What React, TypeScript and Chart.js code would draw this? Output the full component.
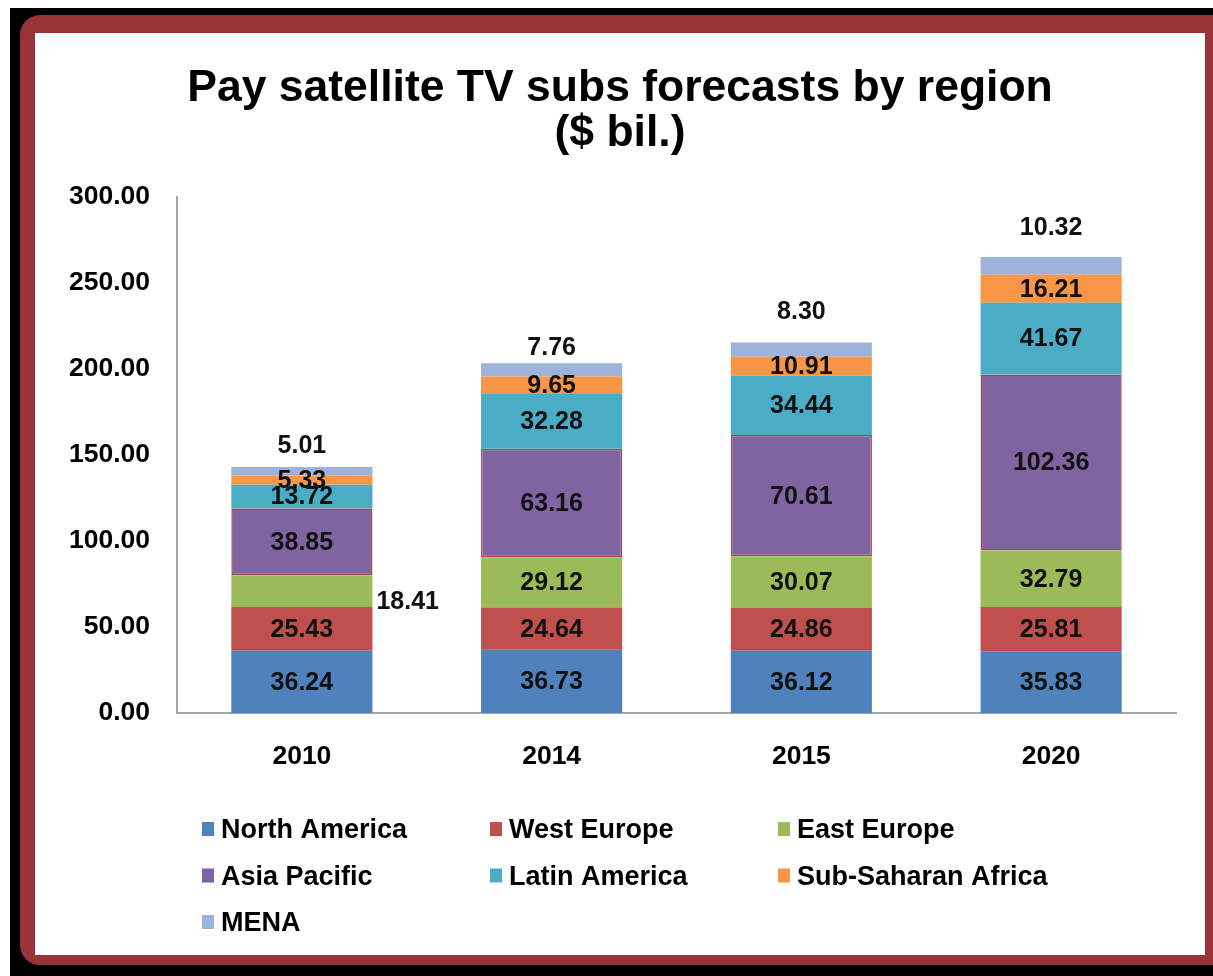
import React, { useEffect, useRef } from 'react';
import { Chart, registerables } from 'chart.js';

Chart.register(...registerables);

const years = ['2010', '2014', '2015', '2020'];
const northAmerica = [36.24, 36.73, 36.12, 35.83];
const westEurope = [25.43, 24.64, 24.86, 25.81];
const eastEurope = [18.41, 29.12, 30.07, 32.79];
const asiaPacific = [38.85, 63.16, 70.61, 102.36];
const latinAmerica = [13.72, 32.28, 34.44, 41.67];
const subSaharanAfrica = [5.33, 9.65, 10.91, 16.21];
const mena = [5.01, 7.76, 8.3, 10.32];
const seriesNames = ['North America', 'West Europe', 'East Europe', 'Asia Pacific', 'Latin America', 'Sub-Saharan Africa', 'MENA'];
const titleLines = ['Pay satellite TV subs forecasts by region', '($ bil.)'];
const yMin = 0;
const yMax = 300;
const yStep = 50;

const FONT = "'Liberation Sans', Arial, Helvetica, sans-serif";
const colors = ['#4F81BD', '#C0504D', '#9BBB59', '#8064A2', '#4BACC6', '#F79646', '#9DB3DB'];

const segLabels = {
  id: 'segLabels',
  afterDatasetsDraw(chart: any, _args: any, opts: any) {
    const ctx = chart.ctx;
    ctx.save();
    ctx.font = opts.font;
    ctx.fillStyle = opts.color;
    ctx.textBaseline = 'middle';
    const n = chart.data.datasets.length;
    chart.data.datasets.forEach((ds: any, di: number) => {
      const meta = chart.getDatasetMeta(di);
      meta.data.forEach((bar: any, i: number) => {
        const v = ds.data[i];
        const text = Number(v).toFixed(2);
        const p = bar.getProps(['x', 'y', 'base', 'width'], true);
        const out = (opts.outside || []).find((o: any) => o.dataset === di && o.index === i);
        if (di === n - 1) {
          ctx.textAlign = 'center';
          ctx.fillText(text, p.x, p.y - opts.topOffsets[i]);
        } else if (out) {
          ctx.textAlign = 'left';
          ctx.fillText(text, p.x + p.width / 2 + out.dx, (p.y + p.base) / 2 + out.dy);
        } else {
          ctx.textAlign = 'center';
          ctx.fillText(text, p.x, (p.y + p.base) / 2 + 1);
        }
      });
    });
    ctx.restore();
  },
};

const gridLegend = {
  id: 'gridLegend',
  afterDraw(chart: any, _args: any, opts: any) {
    const ctx = chart.ctx;
    const area = chart.chartArea;
    ctx.save();
    ctx.font = opts.font;
    ctx.fillStyle = opts.color;
    ctx.textBaseline = 'middle';
    ctx.textAlign = 'left';
    chart.data.datasets.forEach((ds: any, di: number) => {
      const col = di % opts.columns;
      const row = Math.floor(di / opts.columns);
      const x = area.left + opts.left + col * opts.colWidth;
      const y = area.bottom + opts.top + row * opts.rowHeight;
      ctx.fillStyle = ds.backgroundColor;
      ctx.fillRect(x, y - opts.box / 2 - 3, opts.box, opts.box + 2);
      ctx.fillStyle = opts.color;
      ctx.fillText(ds.label, x + opts.box + opts.gap, y);
    });
    ctx.restore();
  },
};

export default function App() {
  const ref = useRef<HTMLCanvasElement | null>(null);

  useEffect(() => {
    if (!ref.current) return;
    const seriesValues = [northAmerica, westEurope, eastEurope, asiaPacific, latinAmerica, subSaharanAfrica, mena];
    const chart = new Chart(ref.current, {
      type: 'bar',
      data: {
        labels: years,
        datasets: seriesValues.map((vals, i) => ({
          label: seriesNames[i],
          data: vals,
          backgroundColor: colors[i],
          borderColor: i === 3 ? '#A2434F' : colors[i],
          borderWidth: i === 3 ? 1.5 : 0,
          borderSkipped: false,
          categoryPercentage: 1,
          barPercentage: 0.565,
        })),
      },
      plugins: [segLabels, gridLegend],
      options: {
        responsive: false,
        animation: false,
        layout: { padding: { left: 29, right: 29, top: 0, bottom: 182 } },
        plugins: {
          legend: { display: false },
          tooltip: { enabled: false },
          title: {
            display: true,
            text: titleLines,
            color: '#000',
            font: { family: FONT, size: 44.5, weight: 'bold', lineHeight: 1.01 },
            padding: { top: 33, bottom: 41 },
          },
          segLabels: {
            font: `bold 25px ${FONT}`,
            color: '#111',
            topOffsets: [21, 15, 30, 29],
            outside: [{ dataset: 2, index: 0, dx: 4, dy: 11 }],
          },
          gridLegend: {
            font: `bold 27px ${FONT}`,
            color: '#000',
            columns: 3,
            left: 25,
            colWidth: 288,
            top: 118,
            rowHeight: 46.5,
            box: 12,
            gap: 7,
          },
        } as any,
        scales: {
          x: {
            stacked: true,
            grid: { display: false, drawTicks: false },
            border: { display: true, color: '#A6A6A6', width: 2 },
            ticks: { color: '#000', font: { family: FONT, size: 26.5, weight: 'bold' }, padding: 28 },
            afterFit: (axis: any) => { axis.height = 60; },
          },
          y: {
            stacked: true,
            min: yMin,
            max: yMax,
            grid: { display: false, drawTicks: false },
            border: { display: true, color: '#A6A6A6', width: 2 },
            ticks: {
              stepSize: yStep,
              color: '#000',
              font: { family: FONT, size: 26.5, weight: 'bold' },
              padding: 27,
              callback: (v: any) => Number(v).toFixed(2),
            },
            afterFit: (axis: any) => { axis.width = 113; },
          },
        },
      },
    });
    return () => chart.destroy();
  }, []);

  return (
    <div>
      <div style={{ position: 'fixed', left: 10, top: 8, right: 0, bottom: 0, background: '#000' }} />
      <div
        style={{
          position: 'fixed',
          left: 20,
          top: 15,
          width: 1220,
          height: 950,
          background: '#9A3337',
          borderRadius: 20,
        }}
      />
      <div style={{ position: 'fixed', left: 35, top: 33, width: 1170, height: 922, background: '#fff' }}>
        <canvas ref={ref} width={1170} height={922} style={{ display: 'block', width: 1170, height: 922 }} />
      </div>
    </div>
  );
}
